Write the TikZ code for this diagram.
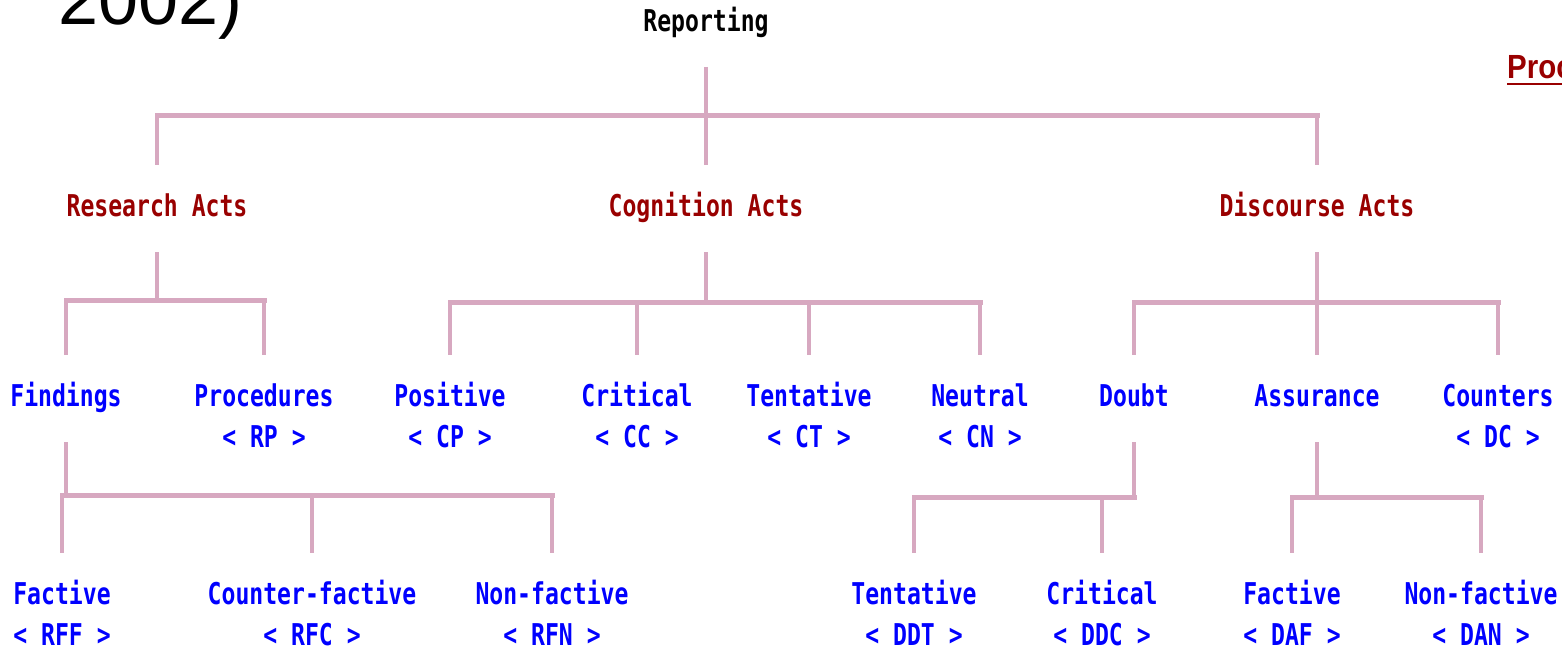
\documentclass[tikz,border=0pt]{standalone}
\usepackage{fontspec}
\newfontfamily\treeFont[FakeStretch=0.77]{DejaVu Sans Mono}
\newfontfamily\slideFont{Liberation Sans}
\newfontfamily\slideNarrowFont[FakeStretch=0.88]{Liberation Sans}
\definecolor{treeLine}{RGB}{215,168,192}
\definecolor{treeRed}{RGB}{153,0,0}
\definecolor{treeBlue}{RGB}{0,0,255}
\newcommand{\treeStemWidth}{3.3pt}
\newcommand{\treeBarWidth}{5pt}
\tikzset{
  tr base/.style={font=\treeFont\bfseries\fontsize{30}{41}\selectfont,
    inner xsep=2pt, inner ysep=23pt, align=center,
    execute at begin node=\strut},
  tr root/.style={tr base, text=black, anchor=south},
  tr act/.style={tr base, text=treeRed, anchor=north},
  tr leaf/.style={tr base, text=treeBlue, anchor=north},
  tr line/.style={draw=treeLine, line width=\treeStemWidth},
  tr bar/.style={draw=treeLine, line width=\treeBarWidth, line cap=rect},
}

\begin{document}
\begin{tikzpicture}[x=1pt, y=-1pt]
\useasboundingbox (0,0) rectangle (1562,652);

% slide leftovers
\node (year) [anchor=base west, inner sep=0,
  font=\slideFont\fontsize{72}{80}\selectfont] at (58,25) {2002)};
\node (proc) [anchor=base west, inner sep=0, text=treeRed,
  font=\slideNarrowFont\bfseries\fontsize{33.5}{36}\selectfont] at (1507,79) {Proc};
\draw [treeRed, line width=2.5pt] ([yshift=-5pt]proc.base west) -- ([yshift=-5pt]proc.base east);

% tree nodes
\node (reporting) [tr root] at (706,67) {Reporting};

\node (research)  [tr act] at (157,165)  {Research Acts};
\node (cognition) [tr act] at (706,165)  {Cognition Acts};
\node (discourse) [tr act] at (1317,165) {Discourse Acts};

\node (findings)   [tr leaf] at (66,355)   {Findings};
\node (procedures) [tr leaf] at (264,355)  {\strut Procedures\\< RP >};
\node (positive)   [tr leaf] at (450,355)  {\strut Positive\\< CP >};
\node (critical)   [tr leaf] at (637,355)  {\strut Critical\\< CC >};
\node (tentative)  [tr leaf] at (809,355)  {\strut Tentative\\< CT >};
\node (neutral)    [tr leaf] at (980,355)  {\strut Neutral\\< CN >};
\node (doubt)      [tr leaf] at (1134,355) {Doubt};
\node (assurance)  [tr leaf] at (1317,355) {Assurance};
\node (counters)   [tr leaf] at (1498,355) {\strut Counters\\< DC >};

\node (rff) [tr leaf] at (62,553)   {\strut Factive\\< RFF >};
\node (rfc) [tr leaf] at (312,553)  {\strut Counter-factive\\< RFC >};
\node (rfn) [tr leaf] at (552,553)  {\strut Non-factive\\< RFN >};
\node (ddt) [tr leaf] at (914,553)  {\strut Tentative\\< DDT >};
\node (ddc) [tr leaf] at (1102,553) {\strut Critical\\< DDC >};
\node (daf) [tr leaf] at (1292,553) {\strut Factive\\< DAF >};
\node (dan) [tr leaf] at (1481,553) {\strut Non-factive\\< DAN >};

% bar levels
\coordinate (barTop) at (0,116);
\coordinate (barRes) at (0,300);
\coordinate (barCog) at (0,302);
\coordinate (barDis) at (0,302);
\coordinate (barFnd) at (0,495);
\coordinate (barDbt) at (0,497);
\coordinate (barAsr) at (0,497);

% Reporting
\draw [tr line] (reporting.south) -- (cognition.north);
\draw [tr line] (research.north |- barTop)  -- (research.north);
\draw [tr line] (discourse.north |- barTop) -- (discourse.north);
\draw [tr bar]  (research.north |- barTop)  -- (discourse.north |- barTop);

% Research Acts
\draw [tr line] (research.south) -- (research.south |- barRes);
\draw [tr line] (findings.north |- barRes)   -- (findings.north);
\draw [tr line] (procedures.north |- barRes) -- (procedures.north);
\draw [tr bar]  (findings.north |- barRes)   -- (procedures.north |- barRes);

% Cognition Acts
\draw [tr line] (cognition.south) -- (cognition.south |- barCog);
\draw [tr line] (positive.north |- barCog)  -- (positive.north);
\draw [tr line] (critical.north |- barCog)  -- (critical.north);
\draw [tr line] (tentative.north |- barCog) -- (tentative.north);
\draw [tr line] (neutral.north |- barCog)   -- (neutral.north);
\draw [tr bar]  (positive.north |- barCog)  -- (neutral.north |- barCog);

% Discourse Acts
\draw [tr line] (discourse.south) -- (assurance.north);
\draw [tr line] (doubt.north |- barDis)    -- (doubt.north);
\draw [tr line] (counters.north |- barDis) -- (counters.north);
\draw [tr bar]  (doubt.north |- barDis)    -- (counters.north |- barDis);

% Findings
\draw [tr line] (findings.south) -- (findings.south |- barFnd);
\draw [tr line] (rff.north |- barFnd) -- (rff.north);
\draw [tr line] (rfc.north |- barFnd) -- (rfc.north);
\draw [tr line] (rfn.north |- barFnd) -- (rfn.north);
\draw [tr bar]  (rff.north |- barFnd) -- (rfn.north |- barFnd);

% Doubt
\draw [tr line] (doubt.south) -- (doubt.south |- barDbt);
\draw [tr line] (ddt.north |- barDbt) -- (ddt.north);
\draw [tr line] (ddc.north |- barDbt) -- (ddc.north);
\draw [tr bar]  (ddt.north |- barDbt) -- (doubt.south |- barDbt);

% Assurance
\draw [tr line] (assurance.south) -- (assurance.south |- barAsr);
\draw [tr line] (daf.north |- barAsr) -- (daf.north);
\draw [tr line] (dan.north |- barAsr) -- (dan.north);
\draw [tr bar]  (daf.north |- barAsr) -- (dan.north |- barAsr);
\end{tikzpicture}
\end{document}
